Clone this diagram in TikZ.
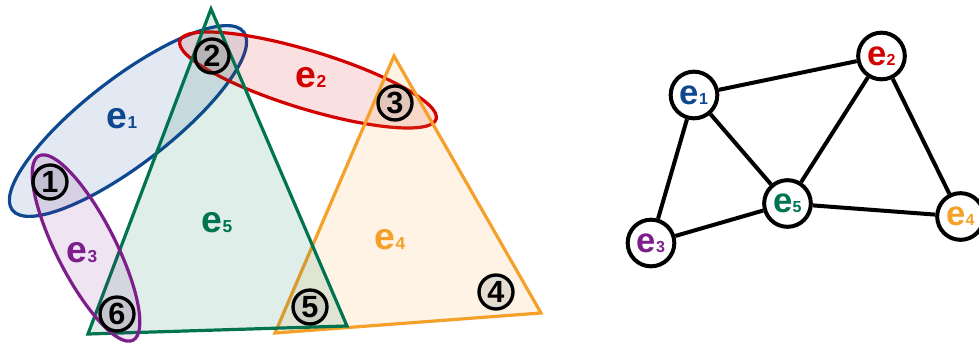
\documentclass[tikz,border=0pt]{standalone}
\usepackage{fontspec}
\setmainfont{Liberation Sans}
\usetikzlibrary{positioning}
\definecolor{eblue}{RGB}{14,72,145}
\definecolor{ered}{RGB}{210,0,0}
\definecolor{epurple}{RGB}{125,30,140}
\definecolor{egreen}{RGB}{0,115,80}
\definecolor{eorange}{RGB}{245,160,40}
\newcommand{\hlab}[1]{{\fontsize{28}{28}\selectfont e}{\fontsize{13}{13}\selectfont #1}}
\newcommand{\glab}[1]{{\fontsize{26}{26}\selectfont e}{\fontsize{12}{12}\selectfont #1}}
\tikzset{
  hedge/.style={draw=#1,line width=2.4pt,fill=#1,fill opacity=.12},
  vnum/.style={circle,draw=black,line width=2.5pt,fill=gray,fill opacity=.2,
               text opacity=1,minimum size=25.5pt,inner sep=0pt,
               font=\bfseries\fontsize{23}{23}\selectfont},
  hname/.style={text=#1,font=\bfseries,inner sep=0pt},
  gnode/.style={circle,draw=black,line width=3pt,fill=white,
                minimum size=35pt,inner sep=0pt,font=\bfseries},
  link/.style={line width=3pt},
}

\begin{document}
\begin{tikzpicture}[x=0.75pt,y=-0.75pt]
\useasboundingbox (0,0) rectangle (979,349);
\clip (0,0) rectangle (979,349);

% hyperedges
\coordinate (c1) at (128,121);
\coordinate (c2) at (308,80);
\coordinate (c3) at (86,248);
\draw[hedge=eblue,rotate around={37.6:(c1)}] (c1) ellipse [x radius=146,y radius=43];
\draw[hedge=ered,rotate around={-17:(c2)}] (c2) ellipse [x radius=134,y radius=29];
\draw[hedge=eorange] (394,56) -- (275,333) -- (541,313) -- cycle;
\draw[hedge=egreen] (211,9) -- (88,334) -- (347,326) -- cycle;
\draw[hedge=epurple,rotate around={-63:(c3)}] (c3) ellipse [x radius=103.5,y radius=29.5];

\node[hname=eblue]    (h1) at (122,119) {\hlab{1}};
\node[hname=ered]     (h2) at (311,78)  {\hlab{2}};
\node[hname=epurple]  (h3) at (82,253)  {\hlab{3}};
\node[hname=eorange]  (h4) at (390,240) {\hlab{4}};
\node[hname=egreen]   (h5) at (217,223) {\hlab{5}};

% vertices
\node[vnum] (v1) at (50,182)  {1};
\node[vnum] (v2) at (212,56)  {2};
\node[vnum] (v3) at (395,103) {3};
\node[vnum] (v4) at (496,292) {4};
\node[vnum] (v5) at (310,307) {5};
\node[vnum] (v6) at (117,314) {6};

% line graph
\node[gnode,text=eblue]   (g1) at (694,95)      {\glab{1}};
\node[gnode,text=ered]    (g2) at (881.5,56)    {\glab{2}};
\node[gnode,text=epurple] (g3) at (651,243)     {\glab{3}};
\node[gnode,text=eorange] (g4) at (960.5,216.5) {\glab{4}};
\node[gnode,text=egreen]  (g5) at (787.5,203.5) {\glab{5}};

\draw[link] (g1) -- (g2);
\draw[link] (g1) -- (g5);
\draw[link] (g1) -- (g3);
\draw[link] (g2) -- (g5);
\draw[link] (g2) -- (g4);
\draw[link] (g5) -- (g3);
\draw[link] (g5) -- (g4);
\end{tikzpicture}
\end{document}
